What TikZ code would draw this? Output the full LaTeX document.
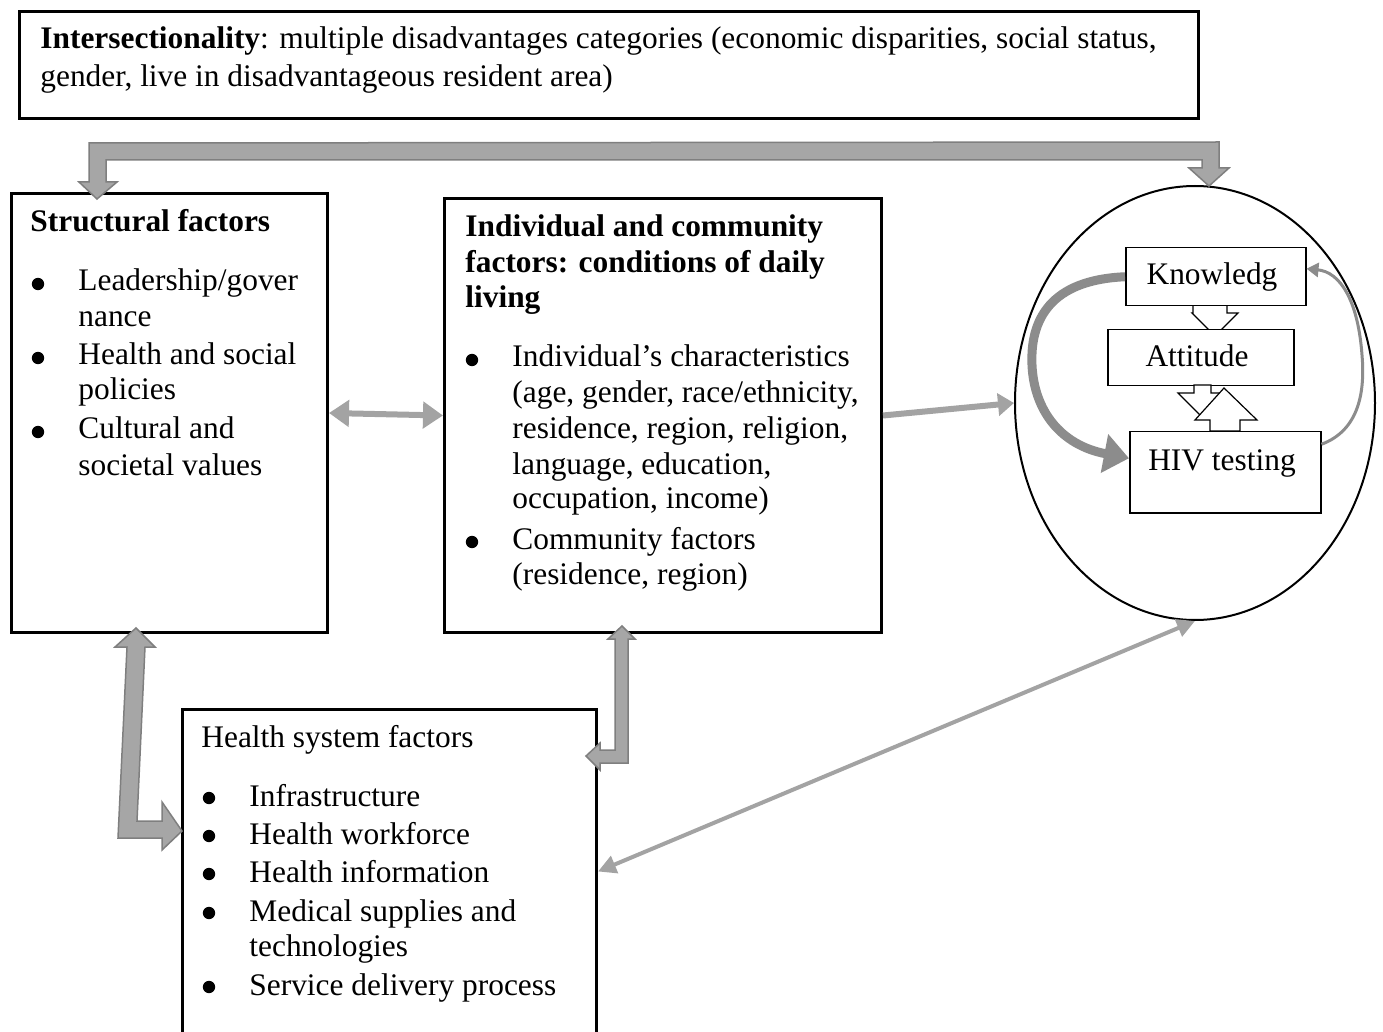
\documentclass[tikz,border=0pt]{standalone}
\usepackage{fontspec}
\setmainfont{Liberation Serif}
\usetikzlibrary{arrows.meta,shapes.geometric}
\definecolor{blockfill}{HTML}{A6A6A6}
\definecolor{blockline}{HTML}{7F7F7F}
\definecolor{lightarrow}{HTML}{A3A3A3}
\definecolor{curvegray}{HTML}{8C8C8C}
\begin{document}
\begin{tikzpicture}[x=0.5pt,y=-0.5pt,
  box/.style={draw=black,line width=1.5pt,anchor=north west,inner sep=0pt},
  smallbox/.style={draw=black,line width=0.75pt,fill=white,anchor=north west,inner sep=0pt},
  txt/.style={anchor=base west,inner sep=0pt,font=\fontsize{15.7}{18}\selectfont},
  ctxt/.style={anchor=base,inner sep=0pt,font=\fontsize{15.7}{18}\selectfont},
  bul/.style={circle,fill=black,inner sep=0pt,minimum size=6.2pt},
  block/.style={fill=blockfill,draw=blockline,line width=0.75pt,line join=miter},
  hollow/.style={fill=white,draw=black,line width=0.6pt,line join=miter},
  lightarr/.style={draw=lightarrow,line width=3pt},
  thinarr/.style={draw=lightarrow,line width=2pt}
]
\useasboundingbox[fill=white] (0,0) rectangle (1383,1032);

% boxes
\node[box,minimum width=589.5pt,minimum height=53.5pt] (top) at (18,10) {};
\node[box,minimum width=158pt,minimum height=219.5pt] (struct) at (10,192) {};
\node[box,minimum width=218.5pt,minimum height=217pt] (indiv) at (443,197) {};
\node[box,minimum width=207pt,minimum height=171pt] (health) at (181,708) {};
\node[ellipse,draw=black,line width=1pt,minimum width=180pt,minimum height=217pt,inner sep=0pt] (ell) at (1195,403) {};

% top text
\node[txt] (t1) at (40,49) {\textbf{Intersectionality}: multiple disadvantages categories (economic disparities, social status,};
\node[txt] (t2) at (40,87) {gender, live in disadvantageous resident area)};

% structural text
\node[txt] (s0) at (30,232) {\textbf{Structural factors}};
\node[bul] (sb1) at (38,284) {};
\node[txt] (s1) at (78,291) {Leadership/gover};
\node[txt] (s2) at (78,327) {nance};
\node[bul] (sb2) at (38,358) {};
\node[txt] (s3) at (78,365) {Health and social};
\node[txt] (s4) at (78,400) {policies};
\node[bul] (sb3) at (38,432) {};
\node[txt] (s5) at (78,439) {Cultural and};
\node[txt] (s6) at (78,475) {societal values};

% individual text
\node[txt] (i0) at (465,237) {\textbf{Individual and community}};
\node[txt] (i01) at (465,273) {\textbf{factors: conditions of daily}};
\node[txt] (i02) at (465,308) {\textbf{living}};
\node[bul] (ib1) at (472,360) {};
\node[txt] (i1) at (512,367) {Individual’s characteristics};
\node[txt] (i2) at (512,403) {(age, gender, race/ethnicity,};
\node[txt] (i3) at (512,439) {residence, region, religion,};
\node[txt] (i4) at (512,474) {language, education,};
\node[txt] (i5) at (512,509) {occupation, income)};
\node[bul] (ib2) at (472,542) {};
\node[txt] (i6) at (512,549) {Community factors};
\node[txt] (i7) at (512,584) {(residence, region)};

% health text
\node[txt] (h0) at (201,747) {Health system factors};
\node[bul] (hb1) at (209,798) {};
\node[txt] (h1) at (249,806) {Infrastructure};
\node[bul] (hb2) at (209,836) {};
\node[txt] (h2) at (249,844) {Health workforce};
\node[bul] (hb3) at (209,874) {};
\node[txt] (h3) at (249,882) {Health information};
\node[bul] (hb4) at (209,913) {};
\node[txt] (h4) at (249,921) {Medical supplies and};
\node[txt] (h5) at (249,956) {technologies};
\node[bul] (hb5) at (209,987) {};
\node[txt] (h6) at (249,995) {Service delivery process};

% block arrows
\path[block] (97,199) -- (79,182) -- (89,182) -- (89,143) -- (1219,142) -- (1219,168) -- (1229,168) -- (1209,186) -- (1189,168) -- (1202,168) -- (1202,160) -- (106,160) -- (106,182) -- (117,182) -- cycle;
\path[block] (136,628) -- (155,647) -- (145,647) -- (137,821) -- (162,821) -- (162,802) -- (182,831) -- (162,850) -- (162,838) -- (118,838) -- (127,647) -- (115,647) -- cycle;
\path[block] (622,626) -- (635,639) -- (628,639) -- (628,763) -- (600,763) -- (600,770) -- (586,756) -- (600,743) -- (600,750) -- (615,750) -- (615,639) -- (608,639) -- cycle;

% straight arrows
\draw[lightarr,{Triangle[length=10pt,width=13pt]}-{Triangle[length=10pt,width=13pt]}] (struct.east) -- (indiv.west);
\draw[lightarr,-{Triangle[length=8pt,width=11pt]}] (indiv.east) -- (ell.west);
\draw[thinarr,{Triangle[length=9pt,width=9pt]}-{Triangle[length=9pt,width=9pt]}] ([yshift=4.5pt]health.east) -- (ell.south);

% inner
\path[hollow] (1193,305) -- (1193,313) -- (1192,313) -- (1215,336) -- (1238,313) -- (1227,313) -- (1227,305) -- cycle;
\node[smallbox,minimum width=90pt,minimum height=29pt] (know) at (1125,247) {};
\node[smallbox,minimum width=93pt,minimum height=28pt] (att) at (1107,329) {};
\node[smallbox,minimum width=95.5pt,minimum height=40.5pt] (hiv) at (1129,431) {};
\path[hollow] (1194,385) -- (1194,393) -- (1178,393) -- (1202.5,417.5) -- (1227,393) -- (1211,393) -- (1211,385) -- cycle;
\path[hollow] (1224,388) -- (1257,420) -- (1240,420) -- (1240,431) -- (1210,431) -- (1210,420) -- (1195,420) -- cycle;
\node[ctxt] (kt) at (1212,285) {Knowledg};
\node[ctxt] (at) at (1197,367) {Attitude};
\node[ctxt] (ht) at (1222,471) {HIV testing};

% curved arrows
\draw[draw=curvegray,line width=4.5pt,-{Triangle[length=12.5pt,width=19pt]}] (know.west) .. controls (1050,280) and (1030,320) .. (1032,365) .. controls (1034,410) and (1060,445) .. ([yshift=7pt]hiv.west);
\draw[draw=curvegray,line width=1.5pt,-{Triangle[length=6pt,width=7pt]}] ([yshift=14pt]hiv.east) .. controls (1360,430) and (1365,390) .. (1362,355) .. controls (1358,300) and (1340,272) .. ([yshift=4pt]know.east);
\end{tikzpicture}
\end{document}
